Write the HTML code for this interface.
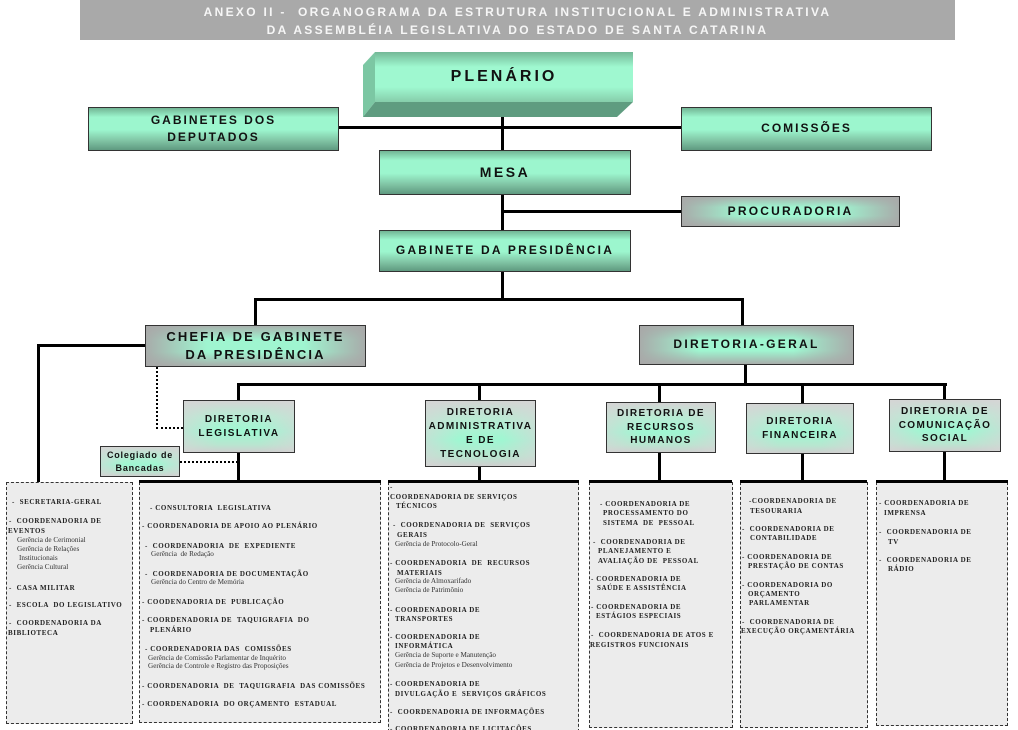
<!DOCTYPE html>
<html><head><meta charset="utf-8">
<style>
*{margin:0;padding:0;box-sizing:border-box}
html,body{width:1018px;height:730px;overflow:hidden}
body{background:#fff;position:relative;font-family:"Liberation Sans",Arial,sans-serif}
.a{position:absolute}
.hdr{left:80px;top:0;width:875px;height:40px;background:#a9a9a9;color:#f6f6f6;font-weight:bold;font-size:12px;letter-spacing:2.3px;text-align:center;line-height:18px;padding-top:3px}
.ln{position:absolute;background:#000}
.box{position:absolute;border:1px solid #333;display:flex;align-items:center;justify-content:center;text-align:center;font-weight:bold;color:#111;line-height:1.45}
.gtop{background:linear-gradient(180deg,#72b595 0%,#9cf6ce 22%,#9cf6ce 52%,#80c4a4 78%,#5f9a80 100%)}
.ggray{background:linear-gradient(90deg,rgba(168,168,168,.95) 0%,rgba(168,168,168,0) 28%,rgba(168,168,168,0) 72%,rgba(168,168,168,.95) 100%),linear-gradient(180deg,#a9b2ae 0%,#9ff5d0 35%,#9ff5d0 65%,#a8aeab 100%)}
.gdir{background:linear-gradient(90deg,rgba(214,214,214,.6) 0%,rgba(214,214,214,0) 30%,rgba(214,214,214,0) 70%,rgba(214,214,214,.6) 100%),linear-gradient(180deg,#d4d4d4 0%,#b8ecd4 30%,#9ff7d2 60%,#b8e6d0 85%,#cfcfcf 100%)}
.pnl{position:absolute;background:#ececec;border:1px dashed #333}
.t{position:absolute;font-family:"Liberation Serif","Times New Roman",serif;font-weight:bold;font-size:7px;letter-spacing:0.6px;color:#222;white-space:nowrap;line-height:8px}
.g{position:absolute;font-family:"Liberation Serif","Times New Roman",serif;font-size:7.2px;color:#333;white-space:nowrap;line-height:8px}
.dot{position:absolute;border-color:#000;border-style:dotted}
</style></head><body>

<div class="a hdr">ANEXO II -&nbsp; ORGANOGRAMA DA ESTRUTURA INSTITUCIONAL E ADMINISTRATIVA<br>DA ASSEMBLÉIA LEGISLATIVA DO ESTADO DE SANTA CATARINA</div>

<!-- PLENARIO 3D -->
<svg class="a" style="left:0;top:0" width="1018" height="730">
  <defs>
    <linearGradient id="pf" x1="0" y1="0" x2="0" y2="1">
      <stop offset="0" stop-color="#74b897"/>
      <stop offset="0.3" stop-color="#9ff8d0"/>
      <stop offset="0.7" stop-color="#9ff8d0"/>
      <stop offset="1" stop-color="#86cdaa"/>
    </linearGradient>
  </defs>
  <polygon points="375,52 363,65 363,117 375,102" fill="#7cc7a3"/>
  <polygon points="363,117 617,117 633,102 375,102" fill="#5f9c80"/>
  <rect x="375" y="52" width="258" height="50" fill="url(#pf)"/>
</svg>
<div class="a" style="left:375px;top:68px;width:258px;text-align:center;font-weight:bold;font-size:16px;letter-spacing:3px;color:#111">PLENÁRIO</div>

<!-- connectors top -->
<div class="ln" style="left:501px;top:117px;width:3px;height:33px"></div>
<div class="ln" style="left:338px;top:126px;width:343px;height:3px"></div>
<div class="ln" style="left:501px;top:194px;width:3px;height:36px"></div>
<div class="ln" style="left:502px;top:210px;width:179px;height:3px"></div>
<div class="ln" style="left:501px;top:272px;width:3px;height:29px"></div>
<div class="ln" style="left:254px;top:298px;width:490px;height:3px"></div>
<div class="ln" style="left:254px;top:298px;width:3px;height:27px"></div>
<div class="ln" style="left:741px;top:298px;width:3px;height:27px"></div>
<div class="ln" style="left:744px;top:364px;width:3px;height:22px"></div>
<div class="ln" style="left:237px;top:383px;width:710px;height:3px"></div>
<div class="ln" style="left:237px;top:383px;width:3px;height:17px"></div>
<div class="ln" style="left:478px;top:383px;width:3px;height:17px"></div>
<div class="ln" style="left:658px;top:383px;width:3px;height:19px"></div>
<div class="ln" style="left:801px;top:383px;width:3px;height:20px"></div>
<div class="ln" style="left:943px;top:383px;width:3px;height:16px"></div>
<div class="ln" style="left:237px;top:452px;width:3px;height:31px"></div>
<div class="ln" style="left:478px;top:467px;width:3px;height:16px"></div>
<div class="ln" style="left:658px;top:453px;width:3px;height:30px"></div>
<div class="ln" style="left:801px;top:454px;width:3px;height:29px"></div>
<div class="ln" style="left:943px;top:452px;width:3px;height:31px"></div>
<!-- chefia to secretaria -->
<div class="ln" style="left:37px;top:344px;width:108px;height:3px"></div>
<div class="ln" style="left:37px;top:344px;width:3px;height:139px"></div>
<!-- dotted -->
<div class="dot" style="left:156px;top:367px;width:0;height:62px;border-width:0 0 0 2px"></div>
<div class="dot" style="left:156px;top:427px;width:27px;height:0;border-width:2px 0 0 0"></div>
<div class="dot" style="left:180px;top:461px;width:58px;height:0;border-width:2px 0 0 0"></div>

<!-- top boxes -->
<div class="box gtop" style="left:88px;top:107px;width:251px;height:44px;font-size:12px;letter-spacing:2px">GABINETES DOS<br>DEPUTADOS</div>
<div class="box gtop" style="left:681px;top:107px;width:251px;height:44px;font-size:12px;letter-spacing:2px">COMISSÕES</div>
<div class="box gtop" style="left:379px;top:150px;width:252px;height:45px;font-size:14px;letter-spacing:2.5px">MESA</div>
<div class="box ggray" style="left:681px;top:196px;width:219px;height:31px;font-size:12px;letter-spacing:2.2px">PROCURADORIA</div>
<div class="box gtop" style="left:379px;top:230px;width:252px;height:42px;font-size:12px;letter-spacing:2.2px">GABINETE DA PRESIDÊNCIA</div>

<div class="box ggray" style="left:145px;top:325px;width:221px;height:42px;font-size:13px;letter-spacing:2.1px;line-height:1.4">CHEFIA DE GABINETE<br>DA PRESIDÊNCIA</div>
<div class="box ggray" style="left:639px;top:325px;width:215px;height:40px;font-size:12px;letter-spacing:2.3px">DIRETORIA-GERAL</div>

<div class="box gdir" style="left:183px;top:400px;width:112px;height:53px;font-size:10px;letter-spacing:1.5px;line-height:1.35">DIRETORIA<br>LEGISLATIVA</div>
<div class="box gdir" style="left:425px;top:400px;width:111px;height:67px;font-size:10px;letter-spacing:1.4px;line-height:1.4">DIRETORIA<br>ADMINISTRATIVA<br>E DE<br>TECNOLOGIA</div>
<div class="box gdir" style="left:606px;top:402px;width:110px;height:51px;font-size:10px;letter-spacing:1.4px;line-height:1.35">DIRETORIA DE<br>RECURSOS<br>HUMANOS</div>
<div class="box gdir" style="left:746px;top:403px;width:108px;height:51px;font-size:10px;letter-spacing:1.4px;line-height:1.35">DIRETORIA<br>FINANCEIRA</div>
<div class="box gdir" style="left:889px;top:399px;width:112px;height:53px;font-size:10px;letter-spacing:1.4px;line-height:1.35">DIRETORIA DE<br>COMUNICAÇÃO<br>SOCIAL</div>
<div class="box gdir" style="left:100px;top:446px;width:80px;height:31px;font-size:9px;letter-spacing:0.8px;line-height:1.35">Colegiado de<br>Bancadas</div>

<!-- panels -->
<div class="pnl" style="left:6px;top:482px;width:127px;height:242px"></div>
<div class="pnl" style="left:139px;top:482px;width:242px;height:241px"></div>
<div class="pnl" style="left:388px;top:482px;width:191px;height:255px"></div>
<div class="pnl" style="left:589px;top:482px;width:144px;height:246px"></div>
<div class="pnl" style="left:740px;top:482px;width:128px;height:246px"></div>
<div class="pnl" style="left:876px;top:482px;width:132px;height:244px"></div>
<div class="ln" style="left:139px;top:480px;width:242px;height:3px"></div>
<div class="ln" style="left:388px;top:480px;width:191px;height:3px"></div>
<div class="ln" style="left:589px;top:480px;width:143px;height:3px"></div>
<div class="ln" style="left:740px;top:480px;width:127px;height:3px"></div>
<div class="ln" style="left:876px;top:480px;width:132px;height:3px"></div>

<!-- panel 1 -->
<div class="t" style="left:12px;top:498px">- &nbsp;SECRETARIA-GERAL</div>
<div class="t" style="left:9px;top:517px">- &nbsp;COORDENADORIA DE</div>
<div class="t" style="left:8px;top:527px">EVENTOS</div>
<div class="g" style="left:17px;top:536px">Gerência de Cerimonial</div>
<div class="g" style="left:17px;top:545px">Gerência de Relações</div>
<div class="g" style="left:19px;top:554px">Institucionais</div>
<div class="g" style="left:17px;top:563px">Gerência Cultural</div>
<div class="t" style="left:9px;top:584px">- &nbsp;CASA MILITAR</div>
<div class="t" style="left:9px;top:601px">- &nbsp;ESCOLA &nbsp;DO LEGISLATIVO</div>
<div class="t" style="left:9px;top:619px">- &nbsp;COORDENADORIA DA</div>
<div class="t" style="left:8px;top:629px">BIBLIOTECA</div>

<!-- panel 2 -->
<div class="t" style="left:150px;top:504px">- CONSULTORIA &nbsp;LEGISLATIVA</div>
<div class="t" style="left:142px;top:522px">- COORDENADORIA DE APOIO AO PLENÁRIO</div>
<div class="t" style="left:145px;top:542px">- &nbsp;COORDENADORIA &nbsp;DE &nbsp;EXPEDIENTE</div>
<div class="g" style="left:151px;top:550px">Gerência &nbsp;de Redação</div>
<div class="t" style="left:145px;top:570px">- &nbsp;COORDENADORIA DE DOCUMENTAÇÃO</div>
<div class="g" style="left:151px;top:578px">Gerência do Centro de Memória</div>
<div class="t" style="left:142px;top:598px">- COODENADORIA DE &nbsp;PUBLICAÇÃO</div>
<div class="t" style="left:142px;top:616px">- COORDENADORIA DE &nbsp;TAQUIGRAFIA &nbsp;DO</div>
<div class="t" style="left:150px;top:626px">PLENÁRIO</div>
<div class="t" style="left:145px;top:645px">- COORDENADORIA DAS &nbsp;COMISSÕES</div>
<div class="g" style="left:148px;top:654px">Gerência de Comissão Parlamentar de Inquérito</div>
<div class="g" style="left:148px;top:662px">Gerência de Controle e Registro das Proposições</div>
<div class="t" style="left:142px;top:682px">- COORDENADORIA &nbsp;DE &nbsp;TAQUIGRAFIA &nbsp;DAS COMISSÕES</div>
<div class="t" style="left:142px;top:700px">- COORDENADORIA &nbsp;DO ORÇAMENTO &nbsp;ESTADUAL</div>

<!-- panel 3 -->
<div class="t" style="left:390px;top:483px">-</div>
<div class="t" style="left:390px;top:493px">COORDENADORIA DE SERVIÇOS</div>
<div class="t" style="left:396px;top:502px">TÉCNICOS</div>
<div class="t" style="left:393px;top:521px">- &nbsp;COORDENADORIA DE &nbsp;SERVIÇOS</div>
<div class="t" style="left:397px;top:531px">GERAIS</div>
<div class="g" style="left:395px;top:540px">Gerência de Protocolo-Geral</div>
<div class="t" style="left:390px;top:559px">- COORDENADORIA &nbsp;DE &nbsp;RECURSOS</div>
<div class="t" style="left:397px;top:569px">MATERIAIS</div>
<div class="g" style="left:395px;top:577px">Gerência de Almoxarifado</div>
<div class="g" style="left:395px;top:586px">Gerência de Patrimônio</div>
<div class="t" style="left:390px;top:606px">- COORDENADORIA DE</div>
<div class="t" style="left:395px;top:615px">TRANSPORTES</div>
<div class="t" style="left:390px;top:633px">- COORDENADORIA DE</div>
<div class="t" style="left:395px;top:642px">INFORMÁTICA</div>
<div class="g" style="left:395px;top:651px">Gerência de Suporte e Manutenção</div>
<div class="g" style="left:395px;top:661px">Gerência de Projetos e Desenvolvimento</div>
<div class="t" style="left:390px;top:680px">- COORDENADORIA DE</div>
<div class="t" style="left:395px;top:690px">DIVULGAÇÃO E &nbsp;SERVIÇOS GRÁFICOS</div>
<div class="t" style="left:390px;top:708px">- &nbsp;COORDENADORIA DE INFORMAÇÕES</div>
<div class="t" style="left:390px;top:725px">- COORDENADORIA DE LICITAÇÕES</div>

<!-- panel 4 -->
<div class="t" style="left:600px;top:500px">- COORDENADORIA DE</div>
<div class="t" style="left:603px;top:509px">PROCESSAMENTO DO</div>
<div class="t" style="left:603px;top:519px">SISTEMA &nbsp;DE &nbsp;PESSOAL</div>
<div class="t" style="left:593px;top:538px">- &nbsp;COORDENADORIA DE</div>
<div class="t" style="left:598px;top:547px">PLANEJAMENTO E</div>
<div class="t" style="left:598px;top:557px">AVALIAÇÃO DE &nbsp;PESSOAL</div>
<div class="t" style="left:591px;top:575px">- COORDENADORIA DE</div>
<div class="t" style="left:597px;top:584px">SAÚDE E ASSISTÊNCIA</div>
<div class="t" style="left:591px;top:603px">- COORDENADORIA DE</div>
<div class="t" style="left:596px;top:612px">ESTÁGIOS ESPECIAIS</div>
<div class="t" style="left:591px;top:631px">- &nbsp;COORDENADORIA DE ATOS E</div>
<div class="t" style="left:590px;top:641px">REGISTROS FUNCIONAIS</div>

<!-- panel 5 -->
<div class="t" style="left:749px;top:497px">-COORDENADORIA DE</div>
<div class="t" style="left:750px;top:507px">TESOURARIA</div>
<div class="t" style="left:742px;top:525px">- &nbsp;COORDENADORIA DE</div>
<div class="t" style="left:750px;top:534px">CONTABILIDADE</div>
<div class="t" style="left:742px;top:553px">- COORDENADORIA DE</div>
<div class="t" style="left:748px;top:562px">PRESTAÇÃO DE CONTAS</div>
<div class="t" style="left:742px;top:581px">- COORDENADORIA DO</div>
<div class="t" style="left:748px;top:590px">ORÇAMENTO</div>
<div class="t" style="left:749px;top:599px">PARLAMENTAR</div>
<div class="t" style="left:742px;top:618px">- &nbsp;COORDENADORIA DE</div>
<div class="t" style="left:741px;top:627px">EXECUÇÃO ORÇAMENTÁRIA</div>

<!-- panel 6 -->
<div class="t" style="left:879px;top:499px">- COORDENADORIA DE</div>
<div class="t" style="left:884px;top:509px">IMPRENSA</div>
<div class="t" style="left:879px;top:528px">- &nbsp;COORDENADORIA DE</div>
<div class="t" style="left:888px;top:538px">TV</div>
<div class="t" style="left:879px;top:556px">- &nbsp;COORDENADORIA DE</div>
<div class="t" style="left:888px;top:565px">RÁDIO</div>

</body></html>
